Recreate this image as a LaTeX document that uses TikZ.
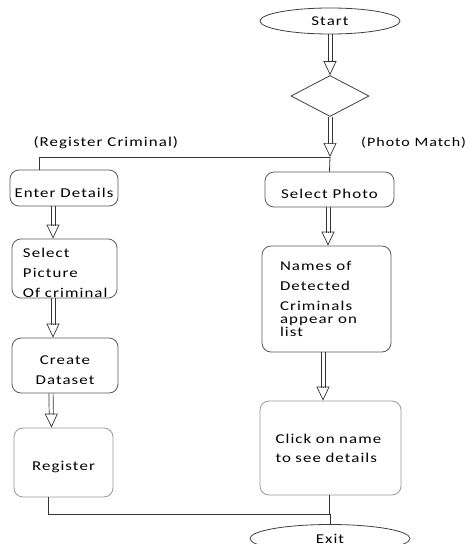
\documentclass[tikz,border=0pt]{standalone}
\usepackage{fontspec}
\setmainfont{Carlito}[FakeStretch=1.25, LetterSpace=8]
\usetikzlibrary{calc, shapes, arrows.meta}
\tikzset{
	flowbox/.style={draw=black!65, rounded corners=9pt, line width=0.8pt, inner sep=0pt},
	softbox/.style={flowbox, draw=black!40},
	arrowshaft/.style={draw=black!80, line width=0.7pt},
	arrowhead/.style={draw=black!80, line width=0.7pt, -{Triangle[open, length=14pt, width=13pt, line width=0.7pt]}},
	flowline/.style={draw=black!80, line width=0.8pt}
}
%Hollow block arrow between two points
\newcommand{\hollowarrow}[2]{
	\coordinate (from) at (#1);
	\coordinate (to) at (#2);
	\coordinate (neck) at ($(to)!13pt!(from)$);
	\draw [arrowshaft] ([xshift=-2.1pt]from) -- ([xshift=-2.1pt]neck);
	\draw [arrowshaft] ([xshift=2.1pt]from) -- ([xshift=2.1pt]neck);
	\draw [arrowhead] ($(to)!14pt!(from)$) -- (to);
}
%Pushes the text of a box a bit down
\newcommand{\lowstrut}{\rule{0pt}{19pt}}

\begin{document}
\begin{tikzpicture}[x=1pt, y=-1pt, font=\fontsize{13.5}{20}\selectfont]
				\useasboundingbox (0,0) rectangle (464,544);
				%Start and decision
				\node [ellipse, draw=black!75, line width=0.8pt, minimum width=140pt, minimum height=26pt, inner sep=0pt] (start) at (330,21) {Start};
				\node [diamond, draw=black!75, line width=0.8pt, minimum width=78pt, minimum height=41pt, inner sep=0pt] (dec) at (330,96) {};
				\hollowarrow{start.south}{dec.north}
				%The split
				\coordinate (split) at (330,157);
				\hollowarrow{dec.south}{split}
				\node [anchor=west] (regcrim) at (30,143) {(Register Criminal)};
				\node [anchor=west, inner sep=0pt, font=\fontsize{12.8}{20}\selectfont] (photomatch) at (361,143) {(Photo Match)};
				%Left column: register a criminal
				\node [flowbox, minimum width=108pt, minimum height=36pt] (enter) at (64,188) {\lowstrut Enter Details};
				\node [flowbox, minimum width=105pt, minimum height=57pt, text width=83pt, align=left] (selpic) at (64.5,268.5) {\lowstrut Select\\Picture\\Of criminal};
				\node [flowbox, minimum width=106pt, minimum height=55pt, align=center] (create) at (65,365.5) {\lowstrut Create\\Dataset};
				\node [softbox, minimum width=99pt, minimum height=69pt] (register) at (63.5,462.5) {\lowstrut Register};
				\draw [flowline] (split) -| ([xshift=-25pt]enter.north);
				\hollowarrow{[xshift=-11pt]enter.south}{[xshift=-11.5pt]selpic.north}
				\hollowarrow{[xshift=-11.5pt]selpic.south}{[xshift=-12pt]create.north}
				\hollowarrow{[xshift=-14pt]create.south}{[xshift=-12pt]register.north}
				%Right column: match a photo
				\node [flowbox, minimum width=129pt, minimum height=35pt] (selphoto) at (329.5,189.5) {\lowstrut Select Photo};
				\node [flowbox, minimum width=129pt, minimum height=106pt, text width=93pt, align=left] (names) at (326.5,299) {Names of\\Detected\\Criminals\\[-7pt]appear on\\[-7pt]list};
				\node [softbox, minimum width=141pt, minimum height=94pt, text width=110pt, align=left] (click) at (330.5,448) {Click on name\\[-1pt]to see details};
				\draw [flowline] (split) -- (selphoto.north);
				\hollowarrow{[xshift=-1.5pt]selphoto.south}{[xshift=1.5pt]names.north}
				\hollowarrow{[xshift=-3.5pt]names.south}{[xshift=-7.5pt]click.north}
				%Both ways end at exit
				\node [ellipse, draw=black!75, line width=0.8pt, minimum width=160pt, minimum height=28pt, inner sep=0pt] (exit) at (330,538.5) {Exit};
				\coordinate (join) at (330,514);
				\draw [flowline] ([xshift=-15.5pt]register.south) |- (join);
				\draw [flowline] ([xshift=-1.5pt]click.south) |- (join) -- (exit.north);
\end{tikzpicture}
\end{document}
